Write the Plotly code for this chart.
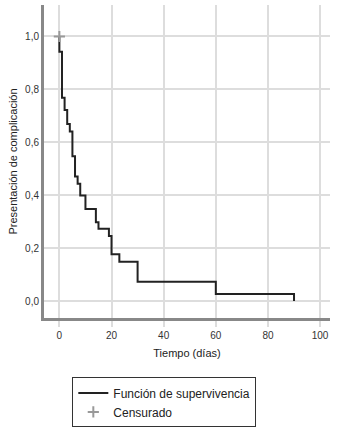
import plotly.graph_objects as go

# Kaplan-Meier step data
tiempo = [0, 0, 1, 2, 3, 4, 5, 6, 7, 8, 10, 14, 15, 19, 20, 23, 30, 60, 90, 90]
supervivencia = [1.0, 0.942, 0.768, 0.722, 0.669, 0.641, 0.547, 0.471, 0.443, 0.399,
                 0.348, 0.298, 0.273, 0.246, 0.177, 0.149, 0.073, 0.027, 0.027, 0.0]
censurado_t = [0]
censurado_s = [1.0]

x_ticks = [0, 20, 40, 60, 80, 100]
y_ticks = [0.0, 0.2, 0.4, 0.6, 0.8, 1.0]

fig = go.Figure()
fig.add_trace(go.Scatter(
    x=tiempo, y=supervivencia, mode="lines", line_shape="hv",
    line=dict(color="#222222", width=2),
    name="Función de supervivencia"))
fig.add_trace(go.Scatter(
    x=censurado_t, y=censurado_s, mode="markers",
    marker=dict(symbol="cross-thin", size=8, color="#999999",
                line=dict(color="#999999", width=2)),
    name="Censurado"))

font = "Liberation Sans, Arial, sans-serif"
fig.update_layout(
    width=339, height=432,
    margin=dict(l=44, r=9, t=5, b=114, autoexpand=False),
    paper_bgcolor="white", plot_bgcolor="white",
    separators=",.",
    font=dict(family=font, size=10, color="#333333"),
    showlegend=True,
    legend=dict(
        x=0.099, y=-0.19, xanchor="left", yanchor="top",
        bordercolor="#333333", borderwidth=1,
        font=dict(size=12, color="#222222"),
        entrywidth=190, entrywidthmode="pixels",
        itemwidth=30, tracegroupgap=4,
    ),
    xaxis=dict(
        range=[-5.9, 103.8], tickvals=x_ticks, tickformat="d",
        showgrid=True, gridcolor="#dddddd", gridwidth=1.5,
        zeroline=False, showline=True, linecolor="#888888", linewidth=3,
        ticks="outside", ticklen=6, tickcolor="#dddddd", tickwidth=1.5,
        tickfont=dict(size=10, color="#333333"), automargin=False,
        title=dict(text="Tiempo (días)", font=dict(size=11, color="#222222"), standoff=10),
    ),
    yaxis=dict(
        range=[-0.064, 1.119], tickvals=y_ticks, tickformat=".1f",
        showgrid=True, gridcolor="#dddddd", gridwidth=1.5,
        zeroline=False, showline=True, linecolor="#888888", linewidth=3,
        ticks="", tickfont=dict(size=10, color="#333333"), automargin=False,
        title=dict(text="Presentación de complicación", font=dict(size=11, color="#222222"), standoff=6),
    ),
)

fig.write_html("out.html", config={"displayModeBar": False},
               post_script="document.body.style.margin='0';")
